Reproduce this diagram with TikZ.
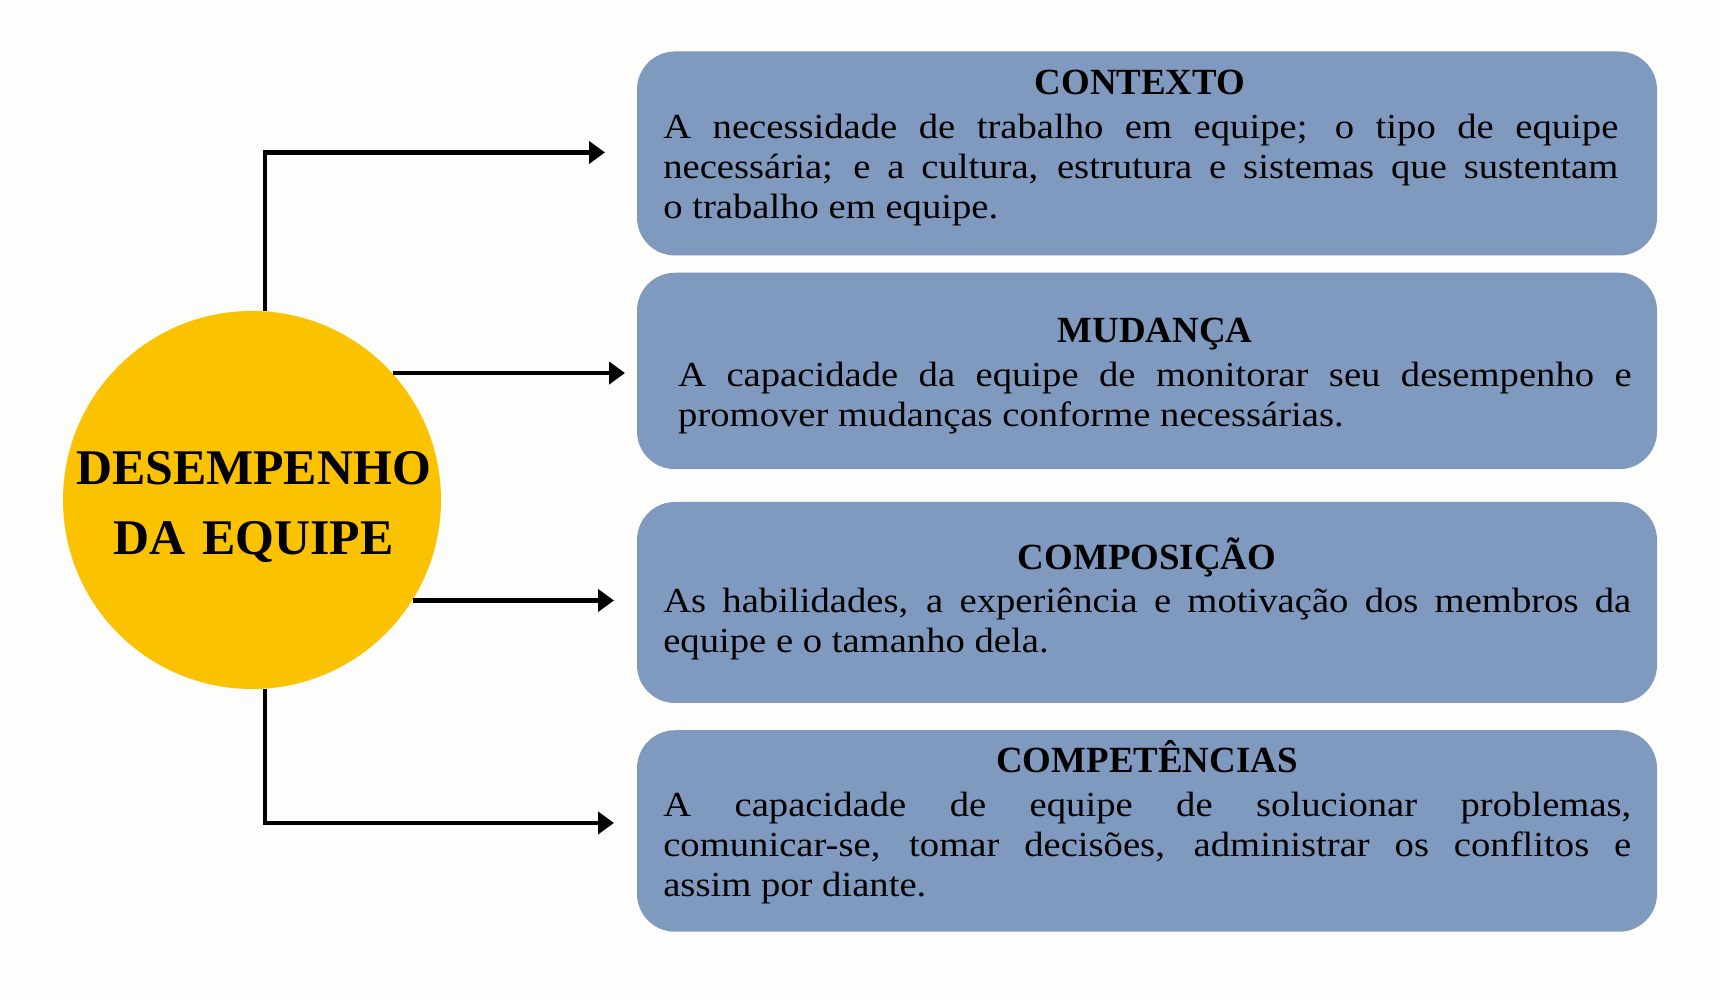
\documentclass[tikz,border=0pt]{standalone}
\usepackage{fontspec}
\setmainfont{Liberation Serif}
\newfontfamily\bodyfont{Liberation Serif}[FakeStretch=1.1]
\usepackage{tikz}
\usetikzlibrary{positioning,calc,arrows.meta}

\definecolor{boxblue}{RGB}{128,153,191}
\definecolor{circyellow}{RGB}{251,194,0}
\definecolor{paper}{RGB}{253,253,252}

\tikzset{
    box/.style={rectangle, rounded corners=0.38cm, fill=boxblue, minimum width=10.2cm, inner sep=0},
    ttl/.style={anchor=base, inner sep=0, font=\bfseries\fontsize{10.5}{12}\selectfont},
    txt/.style={anchor=base west, inner sep=0, align=justify, font=\bodyfont\fontsize{10}{11.38}\selectfont\sloppy},
    arr/.style={line width=0.045cm, -{Triangle[length=0.16cm, width=0.22cm]}}
}

\begin{document}
\begin{tikzpicture}
    % Background
    \fill[paper] (0,0) rectangle (17.2,10);
    \useasboundingbox (0,0) rectangle (17.2,10);

    % Centre circle
    \node[circle, fill=circyellow, minimum size=3.78cm, inner sep=0] (circ) at (2.52,5) {};
    \node[anchor=base, inner sep=0, text width=4.2cm, align=center, font=\bfseries\fontsize{14.2}{19.9}\selectfont] (circT) at (2.535,5.15) {DESEMPENHO\\DA EQUIPE};

    % Boxes
    \node[box, minimum height=2.04cm] (ctx) at (11.47,8.465) {};
    \node[box, minimum height=1.965cm] (mud) at (11.47,6.29) {};
    \node[box, minimum height=2.01cm] (comp) at (11.47,3.975) {};
    \node[box, minimum height=2.015cm] (cmpt) at (11.47,1.69) {};

    % Titles
    \node[ttl] (ctxT) at (11.40,9.05) {CONTEXTO};
    \node[ttl] (mudT) at (11.55,6.57) {MUDANÇA};
    \node[ttl] (compT) at (11.47,4.30) {COMPOSIÇÃO};
    \node[ttl] (cmptT) at (11.47,2.27) {COMPETÊNCIAS};

    % Texts
    \node[txt, text width=9.55cm] (ctxB) at (6.626,8.617) {A necessidade de trabalho em equipe; o tipo de equipe\linebreak necessária; e a cultura, estrutura e sistemas que sustentam\linebreak o trabalho em equipe.};
    \node[txt, text width=9.535cm] (mudB) at (6.775,6.13) {A capacidade da equipe de monitorar seu desempenho e\linebreak promover mudanças conforme necessárias.};
    \node[txt, text width=9.68cm] (compB) at (6.626,3.87) {As habilidades, a experiência e motivação dos membros da\linebreak equipe e o tamanho dela.};
    \node[txt, text width=9.68cm] (cmptB) at (6.626,1.83) {A capacidade de equipe de solucionar problemas,\linebreak comunicar-se, tomar decisões, administrar os conflitos e\linebreak assim por diante.};

    % Arrow ends
    \coordinate (tA) at (6.05,8.475);
    \coordinate (tB) at (6.25,6.26);
    \coordinate (tC) at (6.14,4.0);
    \coordinate (tD) at (6.14,1.77);

    % Connectors
    \draw[arr] (circ.86) |- (tA);
    \draw[arr] (circ.42) -- (circ.42 -| tB);
    \draw[arr] (circ.-32) -- (circ.-32 -| tC);
    \draw[arr] (circ.274) |- (tD);
\end{tikzpicture}
\end{document}
